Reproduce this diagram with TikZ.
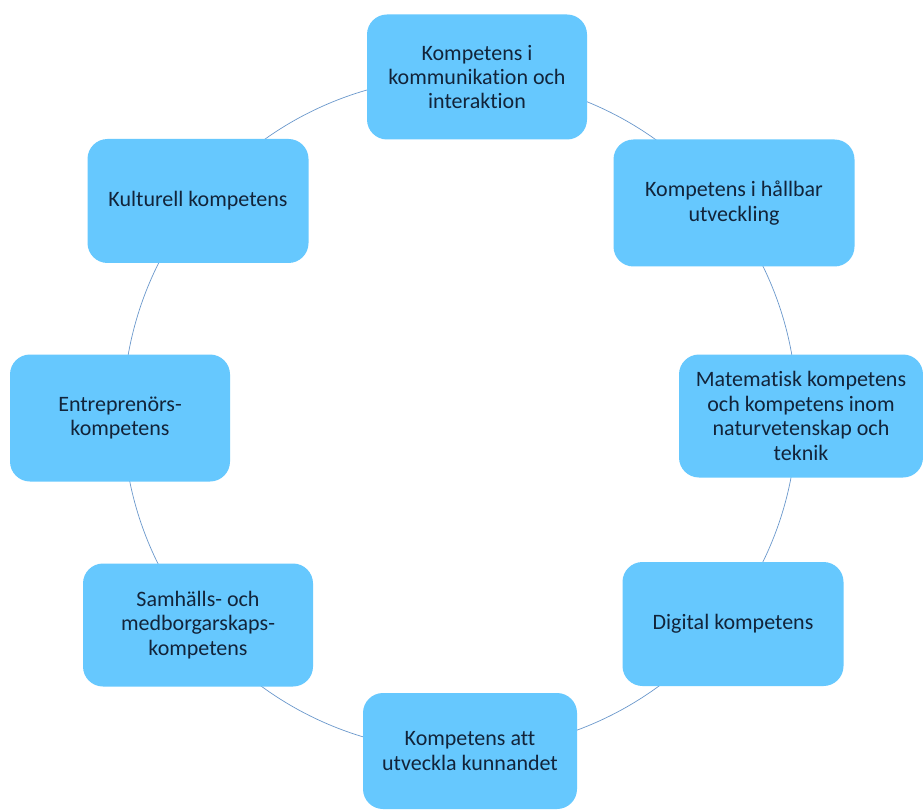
\documentclass[tikz,border=0pt]{standalone}
\usepackage{fontspec}
\setmainfont[Ligatures={NoCommon,NoDiscretionary}]{Carlito}
\definecolor{boxblue}{HTML}{66C8FE}
\definecolor{ringblue}{HTML}{6A98CC}
\definecolor{txt}{HTML}{12243A}
\begin{document}
\begin{tikzpicture}[x=1pt,y=-1pt,
  comp/.style={rectangle, rounded corners=20pt, fill=boxblue, draw=none,
    align=center, text=txt, inner sep=0pt,
    font=\fontsize{22}{24.4}\selectfont},
  ring/.style={draw=ringblue, line width=0.7pt}]
\useasboundingbox (0,0) rectangle (923,810);
\fill[white] (0,0) rectangle (923,810);
\draw[ring] (460,414) circle[radius=337pt];
\node[comp, minimum width=220pt, minimum height=125pt] (kom) at (477,77) {Kompetens i\\kommunikation och\\interaktion};
\node[comp, minimum width=241pt, minimum height=127pt] (hal) at (734,203) {Kompetens i hållbar\\utveckling};
\node[comp, minimum width=244pt, minimum height=123pt] (mat) at (801,416) {Matematisk kompetens\\och kompetens inom\\naturvetenskap och\\teknik};
\node[comp, minimum width=221pt, minimum height=124pt] (dig) at (733,624) {Digital kompetens};
\node[comp, minimum width=214pt, minimum height=116pt] (utv) at (470,751) {Kompetens att\\utveckla kunnandet};
\node[comp, minimum width=230pt, minimum height=123pt] (sam) at (198,625) {Samhälls- och\\medborgarskaps-\\kompetens};
\node[comp, minimum width=220pt, minimum height=127pt] (ent) at (120,418) {Entreprenörs-\\kompetens};
\node[comp, minimum width=221pt, minimum height=124pt] (kul) at (198,201) {Kulturell kompetens};
\end{tikzpicture}
\end{document}
